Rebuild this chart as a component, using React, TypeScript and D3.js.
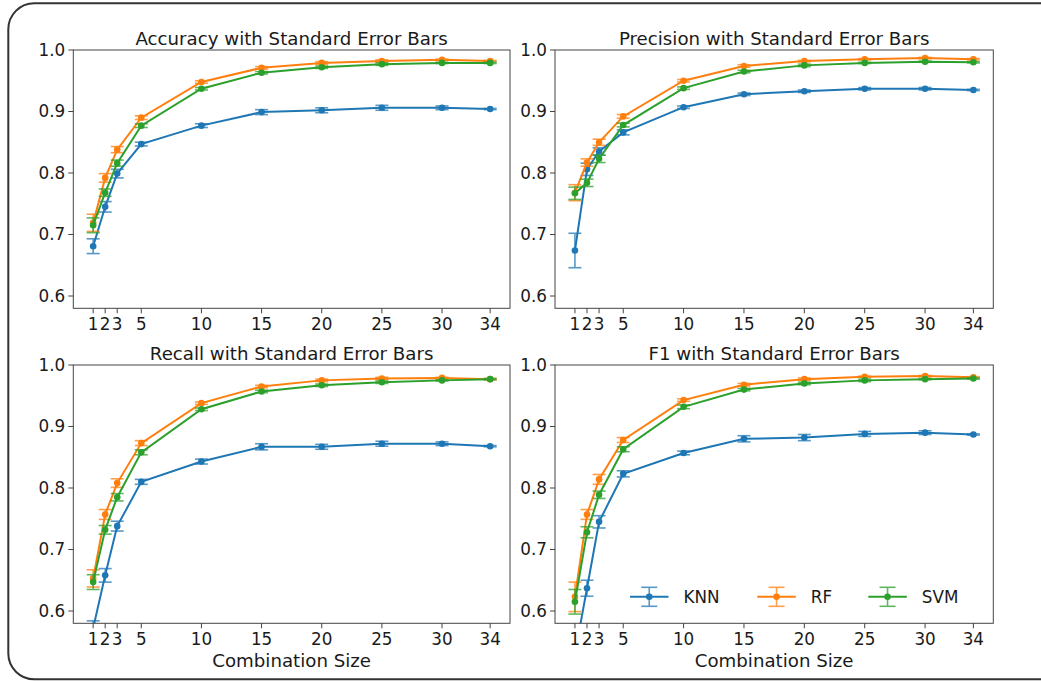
import React from "react";
import * as d3 from "d3";

const sizes = [1, 2, 3, 5, 10, 15, 20, 25, 30, 34];
const yTicks = [0.6, 0.7, 0.8, 0.9, 1.0];
const models = ["KNN", "RF", "SVM"];
const colors = ["#1f77b4", "#ff7f0e", "#2ca02c"];
const titles = [
  "Accuracy with Standard Error Bars",
  "Precision with Standard Error Bars",
  "Recall with Standard Error Bars",
  "F1 with Standard Error Bars",
];

// Accuracy
const accKNN = [0.681, 0.745, 0.799, 0.847, 0.877, 0.899, 0.902, 0.906, 0.906, 0.904];
const accKNNse = [0.012, 0.0085, 0.007, 0.003, 0.003, 0.004, 0.004, 0.004, 0.003, 0.001];
const accRF = [0.719, 0.792, 0.838, 0.890, 0.948, 0.971, 0.979, 0.982, 0.984, 0.982];
const accRFse = [0.014, 0.007, 0.005, 0.003, 0.002, 0.002, 0.002, 0.002, 0.001, 0.001];
const accSVM = [0.715, 0.768, 0.816, 0.877, 0.937, 0.963, 0.972, 0.977, 0.979, 0.979];
const accSVMse = [0.012, 0.006, 0.005, 0.003, 0.002, 0.002, 0.002, 0.002, 0.001, 0.001];

// Precision
const preKNN = [0.674, 0.806, 0.835, 0.866, 0.907, 0.928, 0.933, 0.937, 0.937, 0.935];
const preKNNse = [0.028, 0.01, 0.006, 0.004, 0.002, 0.002, 0.002, 0.002, 0.002, 0.001];
const preRF = [0.768, 0.817, 0.850, 0.892, 0.950, 0.974, 0.982, 0.985, 0.987, 0.985];
const preRFse = [0.013, 0.006, 0.005, 0.003, 0.002, 0.002, 0.001, 0.001, 0.001, 0.001];
const preSVM = [0.767, 0.784, 0.823, 0.878, 0.938, 0.965, 0.975, 0.979, 0.981, 0.980];
const preSVMse = [0.01, 0.006, 0.006, 0.003, 0.002, 0.002, 0.002, 0.001, 0.001, 0.001];

// Recall
const recKNN = [0.572, 0.658, 0.738, 0.810, 0.843, 0.867, 0.867, 0.872, 0.872, 0.868];
const recKNNse = [0.012, 0.011, 0.008, 0.004, 0.004, 0.005, 0.004, 0.004, 0.003, 0.001];
const recRF = [0.653, 0.757, 0.808, 0.873, 0.938, 0.965, 0.975, 0.978, 0.979, 0.977];
const recRFse = [0.014, 0.008, 0.007, 0.004, 0.002, 0.002, 0.002, 0.002, 0.001, 0.001];
const recSVM = [0.647, 0.732, 0.785, 0.858, 0.928, 0.957, 0.967, 0.972, 0.975, 0.977];
const recSVMse = [0.012, 0.007, 0.006, 0.004, 0.002, 0.002, 0.002, 0.002, 0.001, 0.001];

// F1
const f1KNN = [0.53, 0.637, 0.745, 0.823, 0.857, 0.880, 0.882, 0.888, 0.890, 0.887];
const f1KNNse = [0.02, 0.013, 0.01, 0.005, 0.003, 0.005, 0.005, 0.004, 0.003, 0.001];
const f1RF = [0.623, 0.757, 0.814, 0.878, 0.943, 0.968, 0.977, 0.981, 0.982, 0.980];
const f1RFse = [0.024, 0.008, 0.008, 0.004, 0.002, 0.002, 0.002, 0.001, 0.001, 0.001];
const f1SVM = [0.615, 0.728, 0.789, 0.863, 0.932, 0.960, 0.970, 0.975, 0.977, 0.978];
const f1SVMse = [0.02, 0.009, 0.006, 0.004, 0.003, 0.002, 0.002, 0.002, 0.001, 0.001];

const panelData = [
  [[accKNN, accKNNse], [accRF, accRFse], [accSVM, accSVMse]],
  [[preKNN, preKNNse], [preRF, preRFse], [preSVM, preSVMse]],
  [[recKNN, recKNNse], [recRF, recRFse], [recSVM, recSVMse]],
  [[f1KNN, f1KNNse], [f1RF, f1RFse], [f1SVM, f1SVMse]],
];

const W = 1041;
const H = 681;
const colsX = [[73.3, 510], [555, 993.3]];
const rowsY = [[50, 308.3], [365, 623.3]];
const FONT = "'DejaVu Sans', sans-serif";
const TICK_FS = 16.8;
const TITLE_FS = 18.2;

function Panel({ idx }: { idx: number }) {
  const col = idx % 2;
  const row = Math.floor(idx / 2);
  const [x0, x1] = colsX[col];
  const [y0, y1] = rowsY[row];
  const margin = (34 - 1) * 0.05;
  const x = d3.scaleLinear().domain([1 - margin, 34 + margin]).range([x0, x1]);
  const y = d3.scaleLinear().domain([0.58, 1.0]).range([y1, y0]);
  const line = d3
    .line<number>()
    .x((_, i) => x(sizes[i]))
    .y((v) => y(v));
  const clipId = `clip${idx}`;
  const cap = 6.5;
  return (
    <g>
      <defs>
        <clipPath id={clipId}>
          <rect x={x0} y={y0} width={x1 - x0} height={y1 - y0} />
        </clipPath>
      </defs>
      <g clipPath={`url(#${clipId})`}>
        {panelData[idx].map(([vals, se], m) => (
          <g key={m}>
            <path d={line(vals) || ""} fill="none" stroke={colors[m]} strokeWidth={2} />
            <g opacity={0.75} stroke={colors[m]} strokeWidth={1.6}>
              {vals.map((v, i) => {
                const cx = x(sizes[i]);
                const ya = y(v + se[i]);
                const yb = y(v - se[i]);
                return (
                  <g key={i}>
                    <line x1={cx} x2={cx} y1={ya} y2={yb} />
                    <line x1={cx - cap} x2={cx + cap} y1={ya} y2={ya} />
                    <line x1={cx - cap} x2={cx + cap} y1={yb} y2={yb} />
                  </g>
                );
              })}
            </g>
            {vals.map((v, i) => (
              <circle key={i} cx={x(sizes[i])} cy={y(v)} r={3.3} fill={colors[m]} />
            ))}
          </g>
        ))}
      </g>
      <rect x={x0} y={y0} width={x1 - x0} height={y1 - y0} fill="none" stroke="#444" strokeWidth={1} />
      {yTicks.map((t) => (
        <g key={t}>
          <line x1={x0 - 5} x2={x0} y1={y(t)} y2={y(t)} stroke="#444" strokeWidth={1} />
          <text
            x={x0 - 8}
            y={y(t)}
            dy="0.35em"
            textAnchor="end"
            fontSize={TICK_FS}
            fontFamily={FONT}
            fill="#1a1a1a"
          >
            {t.toFixed(1)}
          </text>
        </g>
      ))}
      {sizes.map((s) => (
        <g key={s}>
          <line x1={x(s)} x2={x(s)} y1={y1} y2={y1 + 5} stroke="#444" strokeWidth={1} />
          <text
            x={x(s)}
            y={y1 + 22}
            textAnchor="middle"
            fontSize={TICK_FS}
            fontFamily={FONT}
            fill="#1a1a1a"
          >
            {s}
          </text>
        </g>
      ))}
      <text
        x={(x0 + x1) / 2}
        y={y0 - 5.5}
        textAnchor="middle"
        fontSize={TITLE_FS}
        fontFamily={FONT}
        fill="#1a1a1a"
      >
        {titles[idx]}
      </text>
      {row === 1 && (
        <text
          x={(x0 + x1) / 2}
          y={y1 + 43.5}
          textAnchor="middle"
          fontSize={TITLE_FS}
          fontFamily={FONT}
          fill="#1a1a1a"
        >
          Combination Size
        </text>
      )}
      {idx === 3 && <Legend x0={x0} y1={y1} />}
    </g>
  );
}

const legendOffsets = [75, 202.3, 313.3];

function Legend({ x0, y1 }: { x0: number; y1: number }) {
  const cy = y1 - 26.5;
  const hl = 38.5;
  return (
    <g>
      {models.map((m, i) => {
        const lx = x0 + legendOffsets[i];
        const mx = lx + hl / 2;
        return (
          <g key={m}>
            <line x1={lx} x2={lx + hl} y1={cy} y2={cy} stroke={colors[i]} strokeWidth={2} />
            <g opacity={0.75} stroke={colors[i]} strokeWidth={1.6}>
              <line x1={mx} x2={mx} y1={cy - 9.5} y2={cy + 9.5} />
              <line x1={mx - 8} x2={mx + 8} y1={cy - 9.5} y2={cy - 9.5} />
              <line x1={mx - 8} x2={mx + 8} y1={cy + 9.5} y2={cy + 9.5} />
            </g>
            <circle cx={mx} cy={cy} r={3.3} fill={colors[i]} />
            <text
              x={lx + hl + 15}
              y={cy}
              dy="0.36em"
              fontSize={TICK_FS}
              fontFamily={FONT}
              fill="#1a1a1a"
            >
              {m}
            </text>
          </g>
        );
      })}
    </g>
  );
}

export default function App() {
  return (
    <svg
      width={W}
      height={H}
      style={{ position: "absolute", left: 0, top: 0, background: "#fff" }}
    >
      <rect x={0} y={0} width={W} height={H} fill="#fff" />
      <rect
        x={8.3}
        y={3.3}
        width={W + 20}
        height={676}
        rx={26}
        ry={26}
        fill="none"
        stroke="#333"
        strokeWidth={2}
      />
      {[0, 1, 2, 3].map((i) => (
        <Panel key={i} idx={i} />
      ))}
    </svg>
  );
}
